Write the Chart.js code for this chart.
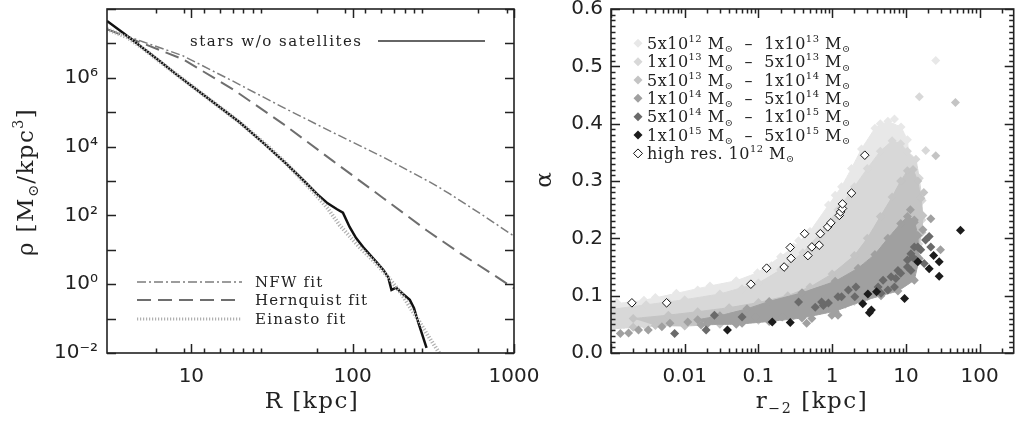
<!DOCTYPE html>
<html>
<head>
<meta charset="utf-8">
<script src="https://cdn.jsdelivr.net/npm/chart.js@4.4.0/dist/chart.umd.min.js"></script>
<style>
  body { margin: 0; background: #fff; width: 1019px; height: 425px; position: relative; overflow: hidden; }
  #leftWrap { position: absolute; left: 0; top: 0; }
  #rightWrap { position: absolute; left: 520px; top: 0; }
</style>
</head>
<body>
<div id="leftWrap"><canvas id="profileView" width="550" height="425"></canvas></div>
<div id="rightWrap"><canvas id="alphaView" width="499" height="425"></canvas></div>
<script>
// ____________________________________________________________________________
// left panel: density profile (R in kpc, rho in Msun/kpc^3)
const starsR = [3, 3.84, 5, 6.3, 8, 10, 14, 20, 28, 38.7, 50, 60, 70, 80, 87, 95.7, 105, 116, 128, 140, 155, 166, 174, 186, 205, 226, 240, 249, 265, 287];
const starsRho = [4.5e7, 1.9e7, 7.4e6, 3.2e6, 1.3e6, 5.9e5, 1.8e5, 5.0e4, 1.26e4, 3.2e3, 1.0e3, 420, 224, 151, 120, 46, 22, 12, 7.1, 4.5, 2.6, 1.6, 0.68, 0.79, 0.52, 0.35, 0.20, 0.11, 0.045, 0.014];

const einastoR = [3, 4, 5, 7, 10, 15, 20, 30, 40, 57, 70, 83, 110, 140, 166, 200, 232, 260, 287, 320, 350];
const einastoRho = [2.6e7, 1.5e7, 7.2e6, 2.1e6, 5.9e5, 1.4e5, 5.0e4, 1.0e4, 2.8e3, 480, 160, 52, 12, 4.0, 1.6, 0.54, 0.18, 0.079, 0.037, 0.017, 0.0089];

const nfwR = [3, 5, 8.83, 18, 37, 75, 155, 315, 400, 644, 1000];
const nfwRho = [2.6e7, 1.12e7, 4.4e6, 8.1e5, 1.38e5, 2.6e4, 4.9e3, 830, 420, 100, 25];

const hernquistR = [3, 5, 8.83, 18, 37, 75, 155, 287, 462, 743, 1000];
const hernquistRho = [2.6e7, 1.0e7, 3.5e6, 4.7e5, 4.6e4, 3.9e3, 316, 37, 8.0, 1.9, 0.76];

const profileXLabels = [10, 100, 1000];
const profileYLabels = [1e-2, 1, 1e2, 1e4, 1e6];
const profileYText = ['10⁻²', '10⁰', '10²', '10⁴', '10⁶'];

// ____________________________________________________________________________
// right panel: alpha vs r_-2, pairs of [r_-2 (kpc), alpha]
// the dense clouds are outlined (top edge left->right, then bottom edge back)
const bandLightest = [[0.001, 0.085], [0.0028, 0.092], [0.0077, 0.104], [0.022, 0.117], [0.05, 0.126], [0.097, 0.14], [0.2, 0.168], [0.3, 0.185], [0.5, 0.212], [0.89, 0.258], [1.34, 0.29], [1.83, 0.322], [2.5, 0.356], [3.8, 0.392], [5.7, 0.404], [8.6, 0.394], [10.5, 0.372],
  [11, 0.34], [8, 0.33], [5, 0.31], [3, 0.28], [2, 0.25], [1.2, 0.21], [0.6, 0.165], [0.25, 0.13], [0.1, 0.108], [0.03, 0.092], [0.01, 0.082], [0.003, 0.074], [0.001, 0.068]];
const bandLight = [[0.001, 0.076], [0.003, 0.084], [0.01, 0.093], [0.03, 0.103], [0.1, 0.122], [0.2, 0.145], [0.4, 0.175], [0.7, 0.21], [1.2, 0.25], [2, 0.29], [3, 0.322], [4.5, 0.352], [6.5, 0.37], [8.5, 0.365], [10.5, 0.352], [13.7, 0.338], [15.2, 0.305], [16.6, 0.266], [16.5, 0.232],
  [15, 0.19], [12, 0.16], [8, 0.13], [4, 0.105], [2, 0.09], [1, 0.08], [0.4, 0.07], [0.1, 0.06], [0.03, 0.055], [0.01, 0.05], [0.003, 0.046], [0.001, 0.042]];
const bandMid = [[0.002, 0.06], [0.006, 0.066], [0.015, 0.072], [0.04, 0.079], [0.1, 0.088], [0.25, 0.1], [0.5, 0.115], [1, 0.138], [2, 0.17], [3, 0.2], [4.5, 0.238], [6.5, 0.272], [8.5, 0.3], [10.5, 0.318], [12.5, 0.32], [14.5, 0.3], [16, 0.27], [17, 0.24], [16.5, 0.21],
  [14, 0.17], [10, 0.135], [6, 0.115], [3, 0.098], [1.5, 0.085], [0.7, 0.075], [0.3, 0.065], [0.1, 0.057], [0.03, 0.05], [0.01, 0.047], [0.004, 0.048]];
const bandGray = [[0.015, 0.058], [0.03, 0.065], [0.07, 0.077], [0.14, 0.09], [0.39, 0.105], [1.1, 0.125], [2.25, 0.148], [3.8, 0.172], [5.7, 0.2], [8.5, 0.226], [10.5, 0.238], [13, 0.232], [14.5, 0.205], [15.2, 0.165],
  [13, 0.127], [7.8, 0.108], [4.6, 0.1], [2.5, 0.09], [1.1, 0.073], [0.39, 0.061], [0.14, 0.055], [0.05, 0.05], [0.02, 0.05]];

// loose points outside the clouds
const lightestExtra = [[25.4, 0.51], [0.0012, 0.088], [0.004, 0.097], [0.015, 0.11], [0.15, 0.152], [0.35, 0.196], [1.1, 0.275], [4.5, 0.4], [7, 0.408]];
const lightExtra = [[15.2, 0.447], [18.6, 0.353], [0.0015, 0.05], [0.006, 0.088], [0.06, 0.112]];
const midExtra = [[47, 0.437], [25.4, 0.344], [17.5, 0.28], [0.002, 0.045]];
const grayExtra = [[0.00134, 0.034], [0.00173, 0.035], [0.00236, 0.04], [0.0032, 0.04], [0.0049, 0.046], [0.0063, 0.052], [0.011, 0.054], [0.0167, 0.049], [0.024, 0.06], [0.06, 0.052], [0.092, 0.063], [0.21, 0.063], [0.39, 0.069], [0.53, 0.06], [0.99, 0.066], [1.2, 0.066], [0.45, 0.052], [21.8, 0.234], [29.5, 0.18], [13, 0.228], [17, 0.215], [11.5, 0.25]];
const darkPoints = [[0.0073, 0.034], [0.0253, 0.066], [0.06, 0.063], [0.35, 0.089], [0.59, 0.08], [0.76, 0.083], [1.2, 0.098], [1.66, 0.11], [2.03, 0.098], [2.1, 0.115], [4.2, 0.115], [4.6, 0.104], [4.9, 0.127], [5.7, 0.11], [6.3, 0.133], [7, 0.115], [7.3, 0.13], [7.8, 0.144], [8.5, 0.139], [10.5, 0.15], [10.5, 0.162], [11.7, 0.144], [11.7, 0.173], [12.4, 0.167], [13, 0.185], [13.7, 0.162], [14.5, 0.185], [15.9, 0.18], [17.7, 0.156], [18.5, 0.197], [20.7, 0.203], [21.8, 0.185], [0.0195, 0.04], [0.72, 0.089], [1.34, 0.098], [0.89, 0.087]];
const blackPoints = [[0.038, 0.04], [0.154, 0.054], [0.27, 0.053], [2.6, 0.086], [3.05, 0.103], [3.2, 0.07], [3.4, 0.075], [4, 0.107], [9.6, 0.095], [14.5, 0.159], [20.7, 0.147], [23.8, 0.17], [28.3, 0.159], [28.3, 0.134], [55, 0.214]];
const highResPoints = [[0.00192, 0.0875], [0.00568, 0.0875], [0.0789, 0.12], [0.129, 0.148], [0.223, 0.15], [0.277, 0.165], [0.27, 0.184], [0.423, 0.208], [0.469, 0.17], [0.53, 0.185], [0.667, 0.188], [0.69, 0.208], [0.87, 0.22], [0.96, 0.227], [1.25, 0.24], [1.3, 0.246], [1.38, 0.252], [1.38, 0.26], [1.83, 0.279], [2.77, 0.345]];

const alphaXLabels = [0.01, 0.1, 1, 10, 100];
const alphaYLabels = [0, 0.1, 0.2, 0.3, 0.4, 0.5, 0.6];

// ____________________________________________________________________________
const serif = '"DejaVu Serif", serif';
const tickFont = { family: '"DejaVu Sans", sans-serif', size: 20 };
const inkColor = '#222';

const shades = { lightest: '#e8e8e8', light: '#d8d8d8', mid: '#c4c4c4', gray: '#a0a0a0', dark: '#6a6a6a', black: '#1c1c1c' };

const zip = (xs, ys) => xs.map((x, i) => ({ x, y: ys[i] }));
const toXY = pairs => pairs.map(([x, y]) => ({ x, y }));

// text with super/subscripts: parts = [[text, 'n'|'sup'|'sub'], ...]
function richWidth(ctx, parts, size, family, spacing = 0) {
    let w = 0;
    ctx.letterSpacing = spacing + 'px';
    for (const [txt, mode] of parts) {
        ctx.font = `${mode === 'n' ? size : size * 0.62}px ${family}`;
        w += ctx.measureText(txt).width;
    }
    return w;
}
function drawRich(ctx, parts, x, y, size, family, spacing = 0) {
    ctx.letterSpacing = spacing + 'px';
    for (const [txt, mode] of parts) {
        const dy = mode === 'sup' ? -size * 0.42 : mode === 'sub' ? size * 0.22 : 0;
        ctx.font = `${mode === 'n' ? size : size * 0.62}px ${family}`;
        ctx.fillText(txt, x, y + dy);
        x += ctx.measureText(txt).width;
    }
    ctx.letterSpacing = '0px';
    return x;
}

// ticks pointing inwards on all four sides, plus the box
function idlAxes(xMajor, xMinor, yMajor, yMinor) {
    return {
        id: 'idlAxes',
        afterDatasetsDraw(chart) {
            const { ctx, chartArea: a, scales } = chart;
            ctx.save();
            ctx.strokeStyle = '#222';
            ctx.lineWidth = 1.5;
            ctx.beginPath();
            const xTick = (v, len) => {
                const px = Math.round(scales.x.getPixelForValue(v)) + 0.5;
                ctx.moveTo(px, a.bottom); ctx.lineTo(px, a.bottom - len);
                ctx.moveTo(px, a.top); ctx.lineTo(px, a.top + len);
            };
            const yTick = (v, len) => {
                const py = Math.round(scales.y.getPixelForValue(v)) + 0.5;
                ctx.moveTo(a.left, py); ctx.lineTo(a.left + len, py);
                ctx.moveTo(a.right, py); ctx.lineTo(a.right - len, py);
            };
            xMajor.forEach(v => xTick(v, 9));
            xMinor.forEach(v => xTick(v, 4.5));
            yMajor.forEach(v => yTick(v, 9));
            yMinor.forEach(v => yTick(v, 4.5));
            ctx.stroke();
            ctx.lineWidth = 1.6;
            ctx.strokeRect(a.left, a.top, a.right - a.left, a.bottom - a.top);
            ctx.restore();
        }
    };
}

function logMinors(from, to) {
    const out = [];
    for (let d = from; d < to * 10; d *= 10) {
        for (let k = 2; k <= 9; k++) if (k * d > from && k * d < to) out.push(k * d);
    }
    return out;
}

// ____________________________________________________________________________
// left chart
const nfwStyle = { borderColor: '#7c7c7c', borderWidth: 1.5, borderDash: [9, 3, 2, 3] };
const hernquistStyle = { borderColor: '#6e6e6e', borderWidth: 2, borderDash: [14, 7] };
const einastoStyle = { borderColor: '#b0b0b0', borderWidth: 4, borderDash: [1.2, 1.8] };
const starsStyle = { borderColor: '#111', borderWidth: 2.5 };

const profileText = {
    id: 'profileText',
    afterDraw(chart) {
        const ctx = chart.ctx;
        ctx.save();
        ctx.fillStyle = inkColor;
        ctx.textAlign = 'left';
        ctx.textBaseline = 'alphabetic';

        // legend top right
        drawRich(ctx, [['stars w/o satellites', 'n']], 190, 46, 15, serif, 1.5);
        ctx.strokeStyle = '#333';
        ctx.lineWidth = 1.5;
        ctx.beginPath(); ctx.moveTo(378, 41); ctx.lineTo(485, 41); ctx.stroke();

        // legend bottom left
        const rows = [['NFW fit', nfwStyle, 282], ['Hernquist fit', hernquistStyle, 300], ['Einasto fit', { ...einastoStyle, borderWidth: 3 }, 319]];
        for (const [name, st, yy] of rows) {
            ctx.strokeStyle = st.borderColor;
            ctx.lineWidth = st.borderWidth;
            ctx.setLineDash(st.borderDash);
            ctx.beginPath(); ctx.moveTo(137, yy); ctx.lineTo(242, yy); ctx.stroke();
            ctx.setLineDash([]);
            drawRich(ctx, [[name, 'n']], 255, yy + 5, 15, serif, 1.2);
        }

        // axis titles
        const xt = [['R [kpc]', 'n']];
        const xw = richWidth(ctx, xt, 23, serif, 1.5);
        drawRich(ctx, xt, 312 - xw / 2, 408, 23, serif, 1.5);

        const yt = [['ρ [M', 'n'], ['⊙', 'sub'], ['/kpc', 'n'], ['3', 'sup'], [']', 'n']];
        const yw = richWidth(ctx, yt, 23, serif, 1.4);
        ctx.translate(25 + 8, 182);
        ctx.rotate(-Math.PI / 2);
        drawRich(ctx, yt, -yw / 2, 0, 23, serif, 1.4);
        ctx.restore();
    }
};

const profileDecades = [1e-2, 1e-1, 1, 1e1, 1e2, 1e3, 1e4, 1e5, 1e6, 1e7, 1e8];

new Chart(document.getElementById('profileView'), {
    type: 'scatter',
    data: {
        datasets: [
            { label: 'Einasto fit', data: zip(einastoR, einastoRho), showLine: true, pointRadius: 0, ...einastoStyle, order: 0 },
            { label: 'stars w/o satellites', data: zip(starsR, starsRho), showLine: true, pointRadius: 0, ...starsStyle, order: 1 },
            { label: 'Hernquist fit', data: zip(hernquistR, hernquistRho), showLine: true, pointRadius: 0, ...hernquistStyle, order: 2 },
            { label: 'NFW fit', data: zip(nfwR, nfwRho), showLine: true, pointRadius: 0, ...nfwStyle, order: 3 },
        ],
    },
    options: {
        responsive: false,
        animation: false,
        events: [],
        layout: { padding: { left: 0, right: 36, top: 9, bottom: 0 } },
        plugins: { legend: { display: false }, tooltip: { enabled: false } },
        scales: {
            x: {
                type: 'logarithmic', min: 3, max: 1000,
                grid: { display: false, drawTicks: false },
                border: { display: false },
                afterBuildTicks: axis => { axis.ticks = profileXLabels.map(v => ({ value: v })); },
                afterFit: axis => { axis.height = 72; axis.paddingLeft = 0; axis.paddingRight = 0; },
                ticks: { autoSkip: false, maxRotation: 0, padding: 12, color: inkColor, font: tickFont, callback: v => String(v) },
            },
            y: {
                type: 'logarithmic', min: 1e-2, max: 1e8,
                grid: { display: false, drawTicks: false },
                border: { display: false },
                afterBuildTicks: axis => { axis.ticks = profileYLabels.map(v => ({ value: v })); },
                afterFit: axis => { axis.width = 107; axis.paddingTop = 0; axis.paddingBottom = 0; },
                ticks: { autoSkip: false, padding: 9, color: inkColor, font: tickFont, callback: v => profileYText[profileYLabels.indexOf(v)] },
            },
        },
    },
    plugins: [idlAxes([10, 100, 1000], logMinors(3, 1000), profileDecades, []), profileText],
});

// ____________________________________________________________________________
// right chart
const bandSet = (label, pairs, color) => ({
    label, data: toXY(pairs), showLine: true, fill: 'shape', tension: 0.01,
    backgroundColor: color, borderColor: color, borderWidth: 1,
    pointStyle: 'rectRot', pointRadius: 4.5, pointBorderWidth: 0,
});
const dotSet = (label, pairs, color) => ({
    label, data: toXY(pairs), backgroundColor: color, borderWidth: 0,
    pointStyle: 'rectRot', pointRadius: 4.5,
});

// listed bottom layer first
const alphaLayers = [
    bandSet('5e12-1e13', bandLightest, shades.lightest),
    dotSet('5e12-1e13', lightestExtra, shades.lightest),
    bandSet('1e13-5e13', bandLight, shades.light),
    dotSet('1e13-5e13', lightExtra, shades.light),
    bandSet('5e13-1e14', bandMid, shades.mid),
    dotSet('5e13-1e14', midExtra, shades.mid),
    bandSet('1e14-5e14', bandGray, shades.gray),
    dotSet('1e14-5e14', grayExtra, shades.gray),
    dotSet('5e14-1e15', darkPoints, shades.dark),
    dotSet('1e15-5e15', blackPoints, shades.black),
    { label: 'high res', data: toXY(highResPoints), backgroundColor: '#fff', borderColor: '#111', borderWidth: 1, pointStyle: 'rectRot', pointRadius: 4.3 },
];
alphaLayers.forEach((ds, i) => { ds.order = alphaLayers.length - i; });

const massRange = (m1, e1, m2, e2) => [[m1 + 'x10', 'n'], [e1, 'sup'], [' M', 'n'], ['⊙', 'sub'], ['  –  ' + m2 + 'x10', 'n'], [e2, 'sup'], [' M', 'n'], ['⊙', 'sub']];
const alphaLegend = [
    [massRange(5, '12', 1, '13'), shades.lightest],
    [massRange(1, '13', 5, '13'), shades.light],
    [massRange(5, '13', 1, '14'), shades.mid],
    [massRange(1, '14', 5, '14'), shades.gray],
    [massRange(5, '14', 1, '15'), shades.dark],
    [massRange(1, '15', 5, '15'), shades.black],
    [[['high res. 10', 'n'], ['12', 'sup'], [' M', 'n'], ['⊙', 'sub']], null],
];

const alphaText = {
    id: 'alphaText',
    afterDraw(chart) {
        const ctx = chart.ctx;
        ctx.save();
        ctx.fillStyle = inkColor;
        ctx.textAlign = 'left';
        ctx.textBaseline = 'alphabetic';

        alphaLegend.forEach(([parts, color], i) => {
            const cy = 43.3 + 18.35 * i;
            const mx = 118, r = 4.5;
            ctx.beginPath();
            ctx.moveTo(mx - r, cy); ctx.lineTo(mx, cy - r); ctx.lineTo(mx + r, cy); ctx.lineTo(mx, cy + r); ctx.closePath();
            if (color) { ctx.fillStyle = color; ctx.fill(); }
            else { ctx.fillStyle = '#fff'; ctx.fill(); ctx.strokeStyle = '#111'; ctx.lineWidth = 1; ctx.stroke(); }
            ctx.fillStyle = inkColor;
            drawRich(ctx, parts, 127, cy + 5.5, 16, serif, 0.5);
        });

        const xt = [['r', 'n'], ['−2', 'sub'], [' [kpc]', 'n']];
        const xw = richWidth(ctx, xt, 23, serif, 1.5);
        drawRich(ctx, xt, 292 - xw / 2, 408, 23, serif, 1.5);

        ctx.translate(23 + 8, 180);
        ctx.rotate(-Math.PI / 2);
        ctx.font = `23px ${serif}`;
        ctx.textAlign = 'center';
        ctx.fillText('α', 0, 0);
        ctx.restore();
    }
};

const alphaMinorY = [];
for (let k = 1; k < 60; k++) if (k % 10) alphaMinorY.push(k / 100);

new Chart(document.getElementById('alphaView'), {
    type: 'scatter',
    data: { datasets: alphaLayers },
    options: {
        responsive: false,
        animation: false,
        events: [],
        layout: { padding: { left: 0, right: 2, top: 9, bottom: 0 } },
        plugins: { legend: { display: false }, tooltip: { enabled: false } },
        scales: {
            x: {
                type: 'logarithmic', min: 0.001, max: 290,
                grid: { display: false, drawTicks: false },
                border: { display: false },
                afterBuildTicks: axis => { axis.ticks = alphaXLabels.map(v => ({ value: v })); },
                afterFit: axis => { axis.height = 72; axis.paddingLeft = 0; axis.paddingRight = 0; },
                ticks: { autoSkip: false, maxRotation: 0, padding: 12, color: inkColor, font: tickFont, callback: v => String(v) },
            },
            y: {
                type: 'linear', min: 0, max: 0.6,
                grid: { display: false, drawTicks: false },
                border: { display: false },
                afterBuildTicks: axis => { axis.ticks = alphaYLabels.map(v => ({ value: v })); },
                afterFit: axis => { axis.width = 91; axis.paddingTop = 0; axis.paddingBottom = 0; },
                ticks: { autoSkip: false, padding: 8, color: inkColor, font: tickFont, callback: v => v.toFixed(1) },
            },
        },
    },
    plugins: [idlAxes([0.001, 0.01, 0.1, 1, 10, 100], logMinors(0.001, 290), alphaYLabels, alphaMinorY), alphaText],
});
</script>
</body>
</html>
